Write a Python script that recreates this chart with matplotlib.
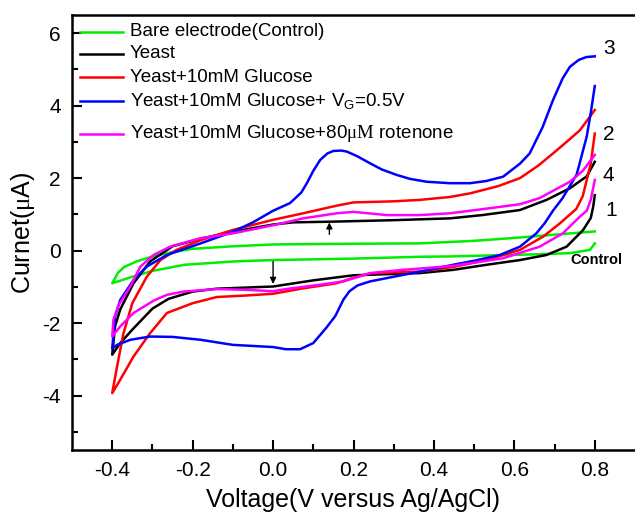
import numpy as np
import matplotlib
matplotlib.use("Agg")
import matplotlib.pyplot as plt

plt.rcParams['font.family'] = ['Liberation Sans', 'DejaVu Sans']
plt.rcParams['mathtext.fontset'] = 'custom'
plt.rcParams['mathtext.rm'] = 'Liberation Serif'
plt.rcParams['mathtext.sf'] = 'Liberation Sans'
plt.rcParams['mathtext.it'] = 'Liberation Sans:italic'
plt.rcParams['axes.unicode_minus'] = False

# each CV: reverse sweep (0.8 -> -0.4) then forward sweep (-0.4 -> 0.8)
control_rev_v = [0.8, 0.788, 0.738, 0.66, 0.55, 0.44, 0.365, 0.2, 0.0, -0.1, -0.22, -0.3, -0.35, -0.38, -0.4]
control_rev_i = [0.2, 0.02, -0.07, -0.1, -0.13, -0.16, -0.17, -0.22, -0.26, -0.3, -0.39, -0.56, -0.72, -0.83, -0.9]
control_fwd_v = [-0.4, -0.395, -0.385, -0.37, -0.34, -0.3, -0.25, -0.2, -0.1, 0.0, 0.2, 0.365, 0.5, 0.6, 0.7, 0.8]
control_fwd_i = [-0.9, -0.8, -0.6, -0.45, -0.3, -0.16, -0.04, 0.05, 0.12, 0.17, 0.19, 0.2, 0.27, 0.35, 0.44, 0.53]

yeast_rev_v = [0.8, 0.796, 0.79, 0.771, 0.73, 0.68, 0.614, 0.531, 0.448, 0.365, 0.2, 0.1, 0.0, -0.07, -0.14, -0.2, -0.26, -0.3, -0.35, -0.38, -0.4]
yeast_rev_i = [1.53, 1.21, 0.9, 0.57, 0.11, -0.12, -0.26, -0.39, -0.53, -0.62, -0.68, -0.82, -0.99, -1.02, -1.05, -1.13, -1.33, -1.6, -2.18, -2.55, -2.87]
yeast_fwd_v = [-0.4, -0.393, -0.38, -0.347, -0.306, -0.25, -0.18, -0.1, 0.0, 0.05, 0.15, 0.3, 0.44, 0.52, 0.614, 0.68, 0.738, 0.78, 0.8]
yeast_fwd_i = [-2.87, -2.09, -1.62, -0.9, -0.3, 0.12, 0.33, 0.52, 0.72, 0.78, 0.8, 0.84, 0.89, 0.98, 1.12, 1.4, 1.72, 2.05, 2.45]

glucose_rev_v = [0.8, 0.79, 0.77, 0.754, 0.713, 0.672, 0.614, 0.531, 0.448, 0.365, 0.3, 0.241, 0.2, 0.158, 0.075, 0.0, -0.07, -0.14, -0.2, -0.264, -0.306, -0.347, -0.38, -0.4]
glucose_rev_i = [3.23, 2.4, 1.5, 1.15, 0.75, 0.39, 0.02, -0.26, -0.45, -0.58, -0.6, -0.63, -0.75, -0.9, -1.04, -1.19, -1.24, -1.28, -1.45, -1.72, -2.28, -2.92, -3.56, -3.93]
glucose_fwd_v = [-0.4, -0.388, -0.372, -0.35, -0.314, -0.28, -0.24, -0.18, -0.1, 0.0, 0.075, 0.158, 0.2, 0.3, 0.365, 0.44, 0.49, 0.56, 0.614, 0.66, 0.696, 0.73, 0.763, 0.8]
glucose_fwd_i = [-3.93, -3.2, -2.28, -1.45, -0.72, -0.26, 0.02, 0.29, 0.57, 0.85, 1.03, 1.24, 1.33, 1.36, 1.4, 1.48, 1.58, 1.78, 2.0, 2.35, 2.68, 3.0, 3.32, 3.88]

gate_rev_v = [0.8, 0.79, 0.78, 0.755, 0.72, 0.696, 0.675, 0.655, 0.614, 0.564, 0.5, 0.448, 0.365, 0.3, 0.241, 0.21, 0.19, 0.175, 0.155, 0.133, 0.1, 0.067, 0.032, 0.0, -0.1, -0.18, -0.25, -0.306, -0.355, -0.388, -0.4]
gate_rev_i = [4.54, 3.8, 3.15, 2.1, 1.45, 1.1, 0.75, 0.48, 0.11, -0.12, -0.28, -0.39, -0.58, -0.72, -0.85, -0.96, -1.12, -1.35, -1.8, -2.12, -2.55, -2.72, -2.72, -2.66, -2.6, -2.46, -2.38, -2.37, -2.46, -2.6, -2.7]
gate_fwd_v = [-0.4, -0.393, -0.38, -0.347, -0.314, -0.264, -0.18, -0.1, -0.05, 0.0, 0.042, 0.07, 0.084, 0.1, 0.117, 0.135, 0.15, 0.17, 0.184, 0.21, 0.241, 0.27, 0.307, 0.34, 0.382, 0.44, 0.49, 0.53, 0.572, 0.614, 0.638, 0.67, 0.696, 0.72, 0.738, 0.76, 0.779, 0.8]
gate_fwd_i = [-2.7, -1.82, -1.36, -0.81, -0.44, -0.12, 0.2, 0.52, 0.78, 1.1, 1.31, 1.6, 1.86, 2.2, 2.5, 2.68, 2.75, 2.76, 2.73, 2.6, 2.41, 2.24, 2.09, 1.98, 1.9, 1.86, 1.86, 1.92, 2.04, 2.4, 2.68, 3.4, 4.15, 4.75, 5.07, 5.26, 5.34, 5.36]

rotenone_rev_v = [0.8, 0.79, 0.78, 0.763, 0.721, 0.663, 0.572, 0.448, 0.324, 0.241, 0.175, 0.117, 0.032, 0.0, -0.07, -0.14, -0.223, -0.264, -0.297, -0.347, -0.38, -0.4]
rotenone_rev_i = [1.95, 1.4, 1.1, 0.94, 0.48, 0.11, -0.21, -0.42, -0.53, -0.62, -0.85, -0.94, -1.06, -1.12, -1.08, -1.06, -1.13, -1.22, -1.38, -1.72, -2.09, -2.37]
rotenone_fwd_v = [-0.4, -0.397, -0.384, -0.355, -0.33, -0.297, -0.256, -0.181, -0.098, 0.0, 0.075, 0.158, 0.2, 0.283, 0.365, 0.44, 0.539, 0.614, 0.663, 0.738, 0.77, 0.8]
rotenone_fwd_i = [-2.37, -1.91, -1.5, -0.99, -0.44, -0.12, 0.11, 0.34, 0.48, 0.7, 0.89, 1.03, 1.07, 0.98, 0.98, 1.03, 1.17, 1.28, 1.45, 1.9, 2.2, 2.64]

labels = ['Bare electrode(Control)', 'Yeast', 'Yeast+10mM Glucose',
          r'Yeast+10mM Glucose+ V$_{\mathsf{G}}$=0.5V',
          r'Yeast+10mM Glucose+80$\mathrm{\mu M}$ rotenone']
colors = ['#00ee00', 'black', '#ff0000', '#0000ff', '#ff00ff']
legend_rows = [32, 54, 77, 101, 134]  # pixel rows of the legend entries

curves = [(control_rev_v, control_rev_i, control_fwd_v, control_fwd_i),
          (yeast_rev_v, yeast_rev_i, yeast_fwd_v, yeast_fwd_i),
          (glucose_rev_v, glucose_rev_i, glucose_fwd_v, glucose_fwd_i),
          (gate_rev_v, gate_rev_i, gate_fwd_v, gate_fwd_i),
          (rotenone_rev_v, rotenone_rev_i, rotenone_fwd_v, rotenone_fwd_i)]

fig = plt.figure(figsize=(6.35, 5.23), dpi=100)
ax = fig.add_axes([72 / 635, 73 / 523, 1 - 72 / 635, 435 / 523])

for (rv, ri, fv, fi), col in zip(curves, colors):
    v = np.concatenate([rv, fv[1:]])
    i = np.concatenate([ri, fi[1:]])
    ax.plot(v, i, color=col, lw=1.8)

# hand-placed legend (the row with the subscript sits lower in the original)
for lab, col, row in zip(labels, colors, legend_rows):
    yy = (450 - row) / 435
    ax.plot([(80 - 72) / 563, (123 - 72) / 563], [yy, yy], color=col, lw=1.8,
            transform=ax.transAxes)
    ax.text((130 - 72) / 563, yy, lab, fontsize=13.5, va='center', ha='left',
            transform=ax.transAxes)

ax.set_xlim(-0.5, 0.9)
ax.set_ylim(-5.5, 6.5)
ax.set_xticks(np.arange(-0.4, 0.81, 0.2))
ax.set_xticklabels(['-0.4', '-0.2', '0.0', '0.2', '0.4', '0.6', '0.8'])
ax.set_xticks(np.arange(-0.3, 0.81, 0.2), minor=True)
ax.set_yticks([-4, -2, 0, 2, 4, 6])
ax.set_yticks([-5, -3, -1, 1, 3, 5], minor=True)
ax.tick_params(which='both', direction='in', width=1.5, labelsize=15, pad=8)
ax.tick_params(which='major', length=7)
ax.tick_params(which='minor', length=4)
ax.spines['right'].set_visible(False)
for s in ['left', 'bottom', 'top']:
    ax.spines[s].set_linewidth(1.8)

ax.set_xlabel('Voltage(V versus Ag/AgCl)', fontsize=18, labelpad=6)
ax.set_ylabel(r'Curnet($\mathrm{\mu}$A)', fontsize=18, labelpad=4)

for txt, x, y in [('3', 0.82, 5.58), ('2', 0.82, 3.21), ('4', 0.82, 2.07), ('1', 0.826, 1.1)]:
    ax.text(x, y, txt, fontsize=15, ha='left', va='center')
ax.text(0.803, -0.26, 'Control', fontsize=10.5, fontweight='bold', ha='center', va='center')

arrow = dict(arrowstyle='-|>', color='black', lw=1, mutation_scale=9, shrinkA=0, shrinkB=0)
ax.annotate('', xy=(0.14, 0.78), xytext=(0.14, 0.45), arrowprops=arrow)
ax.annotate('', xy=(0.0, -0.92), xytext=(0.0, -0.3), arrowprops=arrow)

fig.savefig('out.png', dpi=100)
